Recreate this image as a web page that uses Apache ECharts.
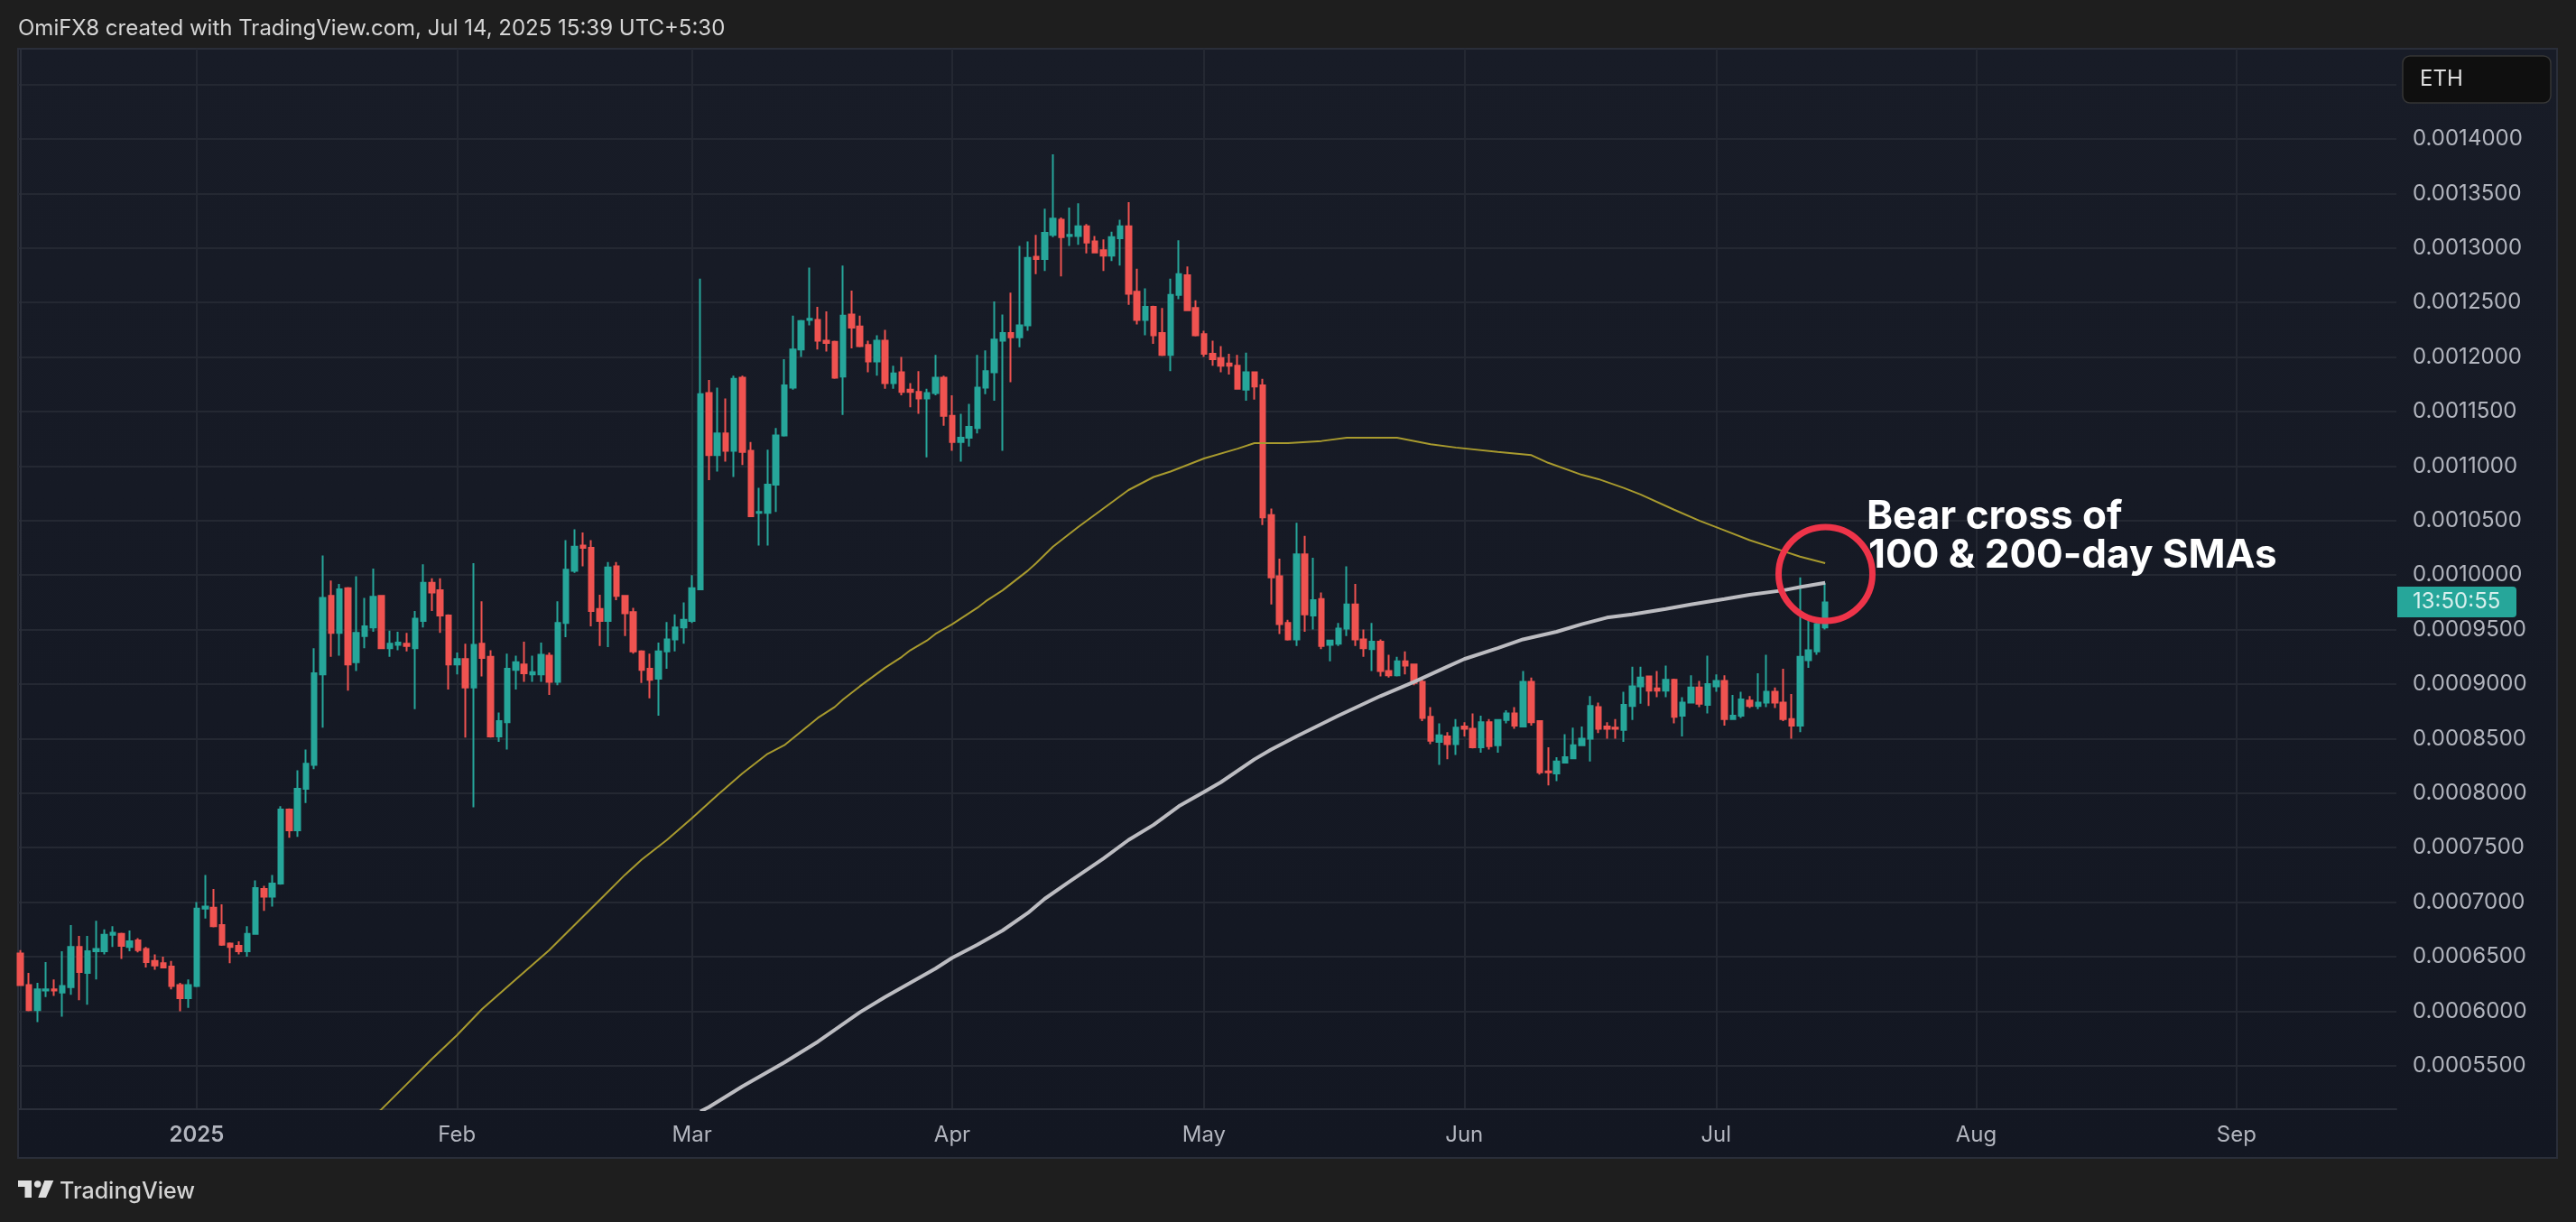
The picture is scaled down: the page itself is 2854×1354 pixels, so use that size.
<!DOCTYPE html>
<html>
<head>
<meta charset="utf-8">
<title>ETH</title>
<script src="https://cdn.jsdelivr.net/npm/echarts@6/dist/echarts.min.js"></script>
<style>
  html, body { margin: 0; padding: 0; background: #1e1e1e; }
  #chart { width: 2854px; height: 1354px; }
</style>
</head>
<body>
<div id="chart"></div>
<script>
// Daily candles, x = days after 2024-12-11, prices in millionths (653 = 0.000653)
const opens = [
  653,624,601,619,620,617,622,659,635,655,
  655,670,671,659,665,657,646,644,641,624,
  612,623,694,695,679,662,660,655,671,712,
  705,717,785,766,804,826,909,981,947,988,
  920,944,952,981,933,936,937,933,958,993,
  986,963,918,923,897,937,925,852,865,913,
  918,909,909,926,902,956,1004,1027,1025,969,
  958,1008,981,966,930,914,905,930,941,952,
  958,987,1167,1110,1130,1114,1181,1114,1057,1057,
  1083,1128,1172,1207,1234,1234,1215,1214,1182,1239,
  1228,1211,1196,1215,1176,1186,1170,1168,1162,1167,
  1181,1146,1122,1126,1135,1172,1186,1215,1222,1218,
  1229,1292,1290,1312,1326,1311,1311,1320,1306,1298,
  1293,1309,1320,1260,1234,1246,1222,1202,1257,1275,
  1245,1221,1203,1199,1194,1192,1170,1186,1174,1055,
  999,956,941,1019,963,978,936,937,951,973,
  941,932,939,912,908,921,918,902,870,847,
  852,845,861,859,842,865,844,867,873,861,
  902,866,820,818,828,832,844,850,879,861,
  860,858,880,898,907,896,894,904,871,883,
  897,881,898,903,868,871,885,880,883,893,
  883,868,862,922,930,952
];
const closes = [
  624,601,620,620,619,623,659,636,655,657,
  670,672,660,664,656,645,642,640,623,612,
  624,694,696,678,661,659,655,671,713,705,
  717,785,766,804,827,910,979,947,987,918,
  947,953,980,933,937,938,935,960,993,984,
  963,918,923,897,936,924,852,866,914,920,
  910,911,927,902,956,1005,1026,1025,967,958,
  1007,981,965,930,913,904,930,941,952,959,
  988,1166,1110,1130,1114,1180,1113,1054,1058,1083,
  1128,1174,1207,1233,1235,1215,1213,1181,1238,1227,
  1210,1196,1215,1176,1185,1168,1168,1162,1167,1181,
  1146,1122,1126,1136,1172,1187,1216,1222,1218,1229,
  1291,1290,1314,1327,1310,1312,1320,1305,1296,1293,
  1310,1320,1258,1234,1246,1220,1202,1257,1276,1243,
  1220,1203,1198,1192,1192,1171,1186,1173,1053,998,
  955,941,1019,964,977,935,940,951,973,941,
  933,939,912,908,921,917,901,869,848,853,
  845,860,859,842,865,843,867,873,862,902,
  865,819,819,829,833,844,850,880,859,859,
  859,881,898,906,894,894,904,870,883,897,
  882,900,903,868,871,886,880,883,893,883,
  868,862,925,931,955,975
];
const lows = [
  623,600,590,613,614,595,615,610,606,629,
  652,659,648,655,654,640,638,640,620,600,
  603,622,685,677,660,644,652,650,671,692,
  696,716,759,760,791,822,860,925,926,894,
  912,933,948,933,925,931,930,877,952,967,
  947,895,909,851,787,907,851,847,840,895,
  902,902,902,890,899,943,1002,1008,953,935,
  934,977,944,928,901,887,871,914,930,937,
  956,986,1087,1095,1104,1090,1101,1054,1027,1027,
  1058,1127,1170,1200,1229,1207,1205,1180,1147,1208,
  1209,1186,1183,1171,1171,1165,1154,1148,1108,1165,
  1137,1114,1104,1118,1130,1166,1160,1114,1177,1209,
  1224,1276,1279,1310,1274,1302,1303,1295,1295,1279,
  1288,1284,1248,1230,1220,1212,1201,1187,1253,1243,
  1219,1200,1192,1186,1184,1171,1160,1161,1046,973,
  946,940,935,948,950,932,921,935,944,935,
  925,912,907,906,907,909,899,866,845,826,
  831,835,852,841,837,840,837,864,859,861,
  862,817,807,811,828,832,844,829,855,850,
  850,847,867,882,880,888,888,864,852,883,
  879,873,893,862,868,869,878,877,879,878,
  866,850,856,915,927,950
];
const highs = [
  656,635,626,645,629,655,679,669,669,683,
  675,678,672,674,667,659,652,650,646,626,
  629,700,725,712,698,663,664,678,720,715,
  725,788,786,821,840,933,1018,995,992,989,
  999,979,1006,981,949,948,947,967,1010,997,
  997,964,929,937,1011,976,931,874,928,926,
  939,926,938,929,976,1032,1042,1039,1032,982,
  1012,1012,981,970,931,928,938,957,964,975,
  1000,1272,1179,1172,1162,1183,1183,1122,1080,1115,
  1135,1198,1238,1234,1282,1246,1242,1215,1284,1261,
  1238,1215,1220,1225,1192,1200,1176,1187,1171,1202,
  1183,1165,1148,1157,1202,1206,1251,1239,1259,1302,
  1306,1312,1336,1386,1328,1337,1341,1322,1311,1308,
  1315,1326,1342,1281,1263,1247,1245,1272,1307,1283,
  1252,1224,1215,1210,1203,1202,1204,1186,1180,1061,
  1015,959,1048,1036,1016,984,940,956,1008,992,
  950,956,941,927,925,930,918,905,879,864,
  856,868,865,873,871,868,868,876,879,912,
  906,866,842,833,854,860,861,889,883,865,
  868,893,916,916,907,912,917,905,888,908,
  903,926,909,908,890,893,889,910,927,897,
  914,891,998,960,961,993
];

const sma100Days = [42,43,46,49,52,55,59,63,66,69,72,74,77,80,83,86,89,91,95,97,98,100,103,105,106,108,109,111,114,115,117,118,120,121,123,126,129,132,135,137,141,145,147,151,155,158,162,164,168,171,176,180,182,186,188,191,193,197,200,203,206,210,212,215];
const sma100Values = [503,510,533,556,578,602,629,656,679,702,725,739,757,777,798,818,836,844,869,879,886,898,915,925,931,940,946,955,970,976,986,992,1004,1011,1026,1044,1061,1078,1090,1095,1107,1116,1121,1121,1123,1126,1126,1126,1120,1117,1113,1110,1103,1092,1088,1080,1074,1060,1050,1041,1032,1022,1017,1011];
const sma200Days = [81,82,86,91,95,100,103,109,111,114,117,120,122,125,129,132,135,138,141,143,147,149,152,157,162,166,170,172,176,179,183,186,189,192,196,199,203,206,210,212,215];
const sma200Values = [508,512,531,553,572,599,613,639,649,661,674,690,703,719,740,757,771,788,801,810,831,840,852,871,889,902,916,923,933,941,948,955,961,964,969,973,978,982,986,989,993];

const priceGrid = [550,600,650,700,750,800,850,900,950,1000,1050,1100,1150,1200,1250,1300,1350,1400,1450];
const priceLabels = [550,600,650,700,750,800,850,900,950,1000,1050,1100,1150,1200,1250,1300,1350,1400];

// first of each month as a day number
const monthDays = [21,52,80,111,141,172,202,233,264];
const monthLabels = ['2025','Feb','Mar','Apr','May','Jun','Jul','Aug','Sep'];

const candles = opens.map((o, i) => [i, o, closes[i], lows[i], highs[i]]);
const toLine = (days, values) => days.map((d, i) => [d, values[i]]);

const gridColor = '#242832';
const frameColor = '#2a2e39';
const labelColor = '#b2b5be';
const font = 'Inter, "Noto Sans", sans-serif';

const chart = echarts.init(document.getElementById('chart'));

chart.setOption({
  animation: false,
  backgroundColor: '#1e1e1e',
  grid: { left: 20, top: 54, width: 2635, height: 1175 },
  xAxis: {
    type: 'value',
    min: -0.29,
    max: 283.05,
    axisLine: { lineStyle: { color: frameColor, width: 2 } },
    axisTick: { show: false, customValues: monthDays },
    splitLine: { show: true, lineStyle: { color: gridColor, width: 2 } },
    axisLabel: {
      customValues: monthDays,
      margin: 17,
      fontFamily: font,
      fontSize: 24,
      color: labelColor,
      formatter: v => {
        const label = monthLabels[monthDays.indexOf(v)];
        return label === '2025' ? '{year|' + label + '}' : label;
      },
      rich: { year: { fontFamily: font, fontSize: 24, fontWeight: 600, color: labelColor } }
    }
  },
  yAxis: {
    type: 'value',
    position: 'right',
    min: 510.1,
    max: 1482.8,
    axisLine: { show: true, lineStyle: { color: frameColor, width: 2 } },
    axisTick: { show: false, customValues: priceGrid },
    splitLine: { show: true, lineStyle: { color: gridColor, width: 2 } },
    axisLabel: {
      customValues: priceLabels,
      margin: 18,
      fontFamily: font,
      fontSize: 24,
      color: labelColor,
      formatter: v => (v / 1e6).toFixed(7)
    }
  },
  series: [
    {
      type: 'candlestick',
      data: candles,
      barWidth: 6,
      z: 3,
      itemStyle: {
        color: '#26a69a',
        color0: '#ef5350',
        borderColor: '#26a69a',
        borderColor0: '#ef5350',
        borderWidth: 2
      }
    },
    {
      name: 'SMA 100',
      type: 'line',
      data: toLine(sma100Days, sma100Values),
      showSymbol: false,
      z: 4,
      lineStyle: { color: '#a89a2e', width: 2 }
    },
    {
      name: 'SMA 200',
      type: 'line',
      data: toLine(sma200Days, sma200Values),
      showSymbol: false,
      z: 4,
      lineStyle: { color: '#bcbcc1', width: 4 }
    }
  ],
  graphic: [
    // panel behind the plot and both axes
    { type: 'rect', z: -10, shape: { x: 20, y: 54, width: 2813, height: 1229 },
      style: {
        fill: new echarts.graphic.LinearGradient(0, 0, 0, 1, [
          { offset: 0, color: '#181c27' }, { offset: 1, color: '#131722' }
        ]),
        stroke: frameColor, lineWidth: 2
      } },
    // header and footer
    { type: 'text', z: 50, style: { x: 20, y: 32, text: 'OmiFX8 created with TradingView.com, Jul 14, 2025 15:39 UTC+5:30',
      font: '24px ' + font, fill: '#d6d6d6', verticalAlign: 'middle' } },
    { type: 'polygon', z: 50, shape: { points: [[20,1308],[35,1308],[35,1327],[27.5,1327],[27.5,1315],[20,1315]] }, style: { fill: '#dedede' } },
    { type: 'circle', z: 50, shape: { cx: 41.7, cy: 1312, r: 3.8 }, style: { fill: '#dedede' } },
    { type: 'polygon', z: 50, shape: { points: [[49.3,1308],[59.3,1308],[51,1327],[42.3,1327]] }, style: { fill: '#dedede' } },
    { type: 'text', z: 50, style: { x: 66, y: 1320, text: 'TradingView', font: '500 25px ' + font, fill: '#d4d4d4', verticalAlign: 'middle' } },
    // symbol box
    { type: 'rect', z: 50, shape: { x: 2662, y: 62, width: 164, height: 52, r: 8 }, style: { fill: '#0f0f0f', stroke: '#363636', lineWidth: 1.5 } },
    { type: 'text', z: 51, style: { x: 2681, y: 88, text: 'ETH', font: '24px ' + font, fill: '#e0e0e0', verticalAlign: 'middle' } },
    // countdown tag
    { type: 'rect', z: 50, shape: { x: 2656, y: 650, width: 132, height: 34, r: [0,4,4,0] }, style: { fill: '#26a69a' } },
    { type: 'text', z: 51, style: { x: 2673, y: 667, text: '13:50:55', font: '24px ' + font, fill: '#d7efed', verticalAlign: 'middle' } },
    // annotation
    { type: 'circle', z: 40, shape: { cx: 2022.5, cy: 636, r: 52 }, style: { fill: 'none', stroke: '#ee3449', lineWidth: 7 } },
    { type: 'text', z: 41, style: { x: 2068, y: 573, text: 'Bear cross of', font: '700 44px ' + font, fill: '#ffffff', verticalAlign: 'middle' } },
    { type: 'text', z: 41, style: { x: 2070, y: 616, text: '100 & 200-day SMAs', font: '700 44px ' + font, fill: '#ffffff', verticalAlign: 'middle' } }
  ]
});
</script>
</body>
</html>
